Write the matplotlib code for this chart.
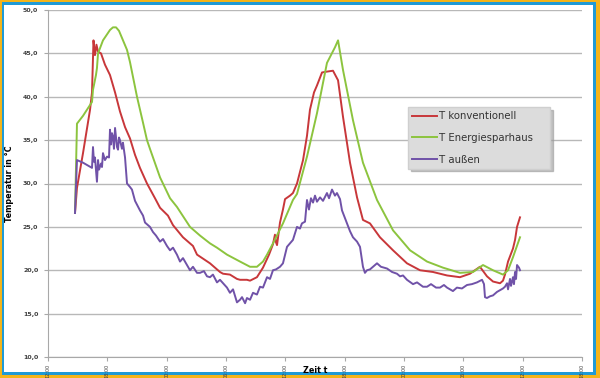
#!/usr/bin/env python3
"""Temperaturverlauf konventionell / Energiesparhaus / aussen."""

import matplotlib
matplotlib.use('Agg')
import matplotlib.pyplot as plt
from matplotlib.patches import Rectangle

# Zeit in Stunden ab 12:00 des ersten Tages
TICK_HOURS = [0, 6, 12, 18, 24, 30, 36, 42, 48, 54]
TICK_LABELS = ['12:00', '18:00', '00:00', '06:00', '12:00',
               '18:00', '00:00', '06:00', '12:00', '18:00']
Y_TICKS = [10, 15, 20, 25, 30, 35, 40, 45, 50]
SERIES_NAMES = ['T konventionell', 'T Energiesparhaus', 'T außen']

KONV_H = [2.73, 2.93, 3.54, 4.25, 4.45, 4.60, 4.75, 4.90, 5.06, 5.36,
          5.76, 6.27, 6.78, 7.28, 7.79, 8.29, 8.80, 9.30, 10.01, 10.82,
          11.33, 12.13, 12.64, 13.65, 14.66, 15.07, 16.38, 17.39, 17.70,
          18.40, 19.11, 19.42, 20.12, 20.43, 21.13, 21.74, 22.35, 22.75,
          22.95, 23.06, 23.16, 23.46, 23.76, 23.97, 24.47, 24.77, 25.18,
          25.79, 26.19, 26.49, 26.90, 27.20, 27.71, 28.21, 28.82, 29.33,
          29.83, 30.54, 31.25, 31.85, 32.56, 33.57, 34.89, 36.30, 37.62,
          38.93, 40.35, 41.66, 42.67, 43.68, 44.39, 45.00, 45.71, 46.01,
          46.21, 46.52, 47.02, 47.23, 47.43, 47.73]
KONV_T = [26.6, 29.5, 33.5, 38.5, 40.5, 46.5, 44.8, 46.0, 45.2, 45.0,
          43.7, 42.5, 40.5, 38.3, 36.5, 35.2, 33.3, 31.8, 30.0, 28.3,
          27.2, 26.3, 25.2, 23.8, 22.8, 21.8, 20.8, 19.8, 19.6,
          19.5, 19.0, 18.9, 18.9, 18.8, 19.2, 20.3, 21.8, 23.0,
          24.1, 23.2, 22.9, 25.5, 27.0, 28.2, 28.6, 28.9, 30.0,
          32.7, 35.5, 38.5, 40.5, 41.3, 42.8, 42.9, 43.0, 41.9,
          37.7, 32.4, 28.4, 25.8, 25.4, 23.8, 22.3, 20.8, 20.0,
          19.8, 19.4, 19.2, 19.6, 20.4, 19.3, 18.7, 18.5, 18.8,
          19.5, 21.0, 22.5, 23.5, 25.0, 26.1]

SPAR_H = [2.73, 2.93, 3.54, 4.45, 4.55, 4.85, 4.95, 5.06, 5.56, 6.27,
          6.57, 6.88, 7.18, 7.99, 8.29, 9.00, 9.61, 10.01, 10.31, 11.33,
          12.34, 13.04, 14.36, 15.37, 16.38, 17.09, 18.10, 19.42, 20.43,
          21.13, 21.74, 22.15, 22.75, 23.76, 24.77, 25.18, 26.19, 27.20,
          28.21, 29.02, 29.33, 29.83, 30.84, 31.85, 33.27, 34.89, 36.61,
          38.33, 39.94, 41.66, 42.98, 43.99, 45.00, 46.01, 46.52, 47.02,
          47.73]
SPAR_T = [26.6, 36.9, 37.8, 39.4, 40.8, 42.5, 43.3, 45.0, 46.5, 47.7,
          48.0, 48.0, 47.6, 45.4, 44.0, 40.0, 37.0, 35.0, 34.0, 30.7,
          28.3, 27.3, 25.0, 24.0, 23.1, 22.6, 21.8, 21.0, 20.4,
          20.4, 21.0, 21.8, 23.1, 25.4, 28.1, 28.8, 33.1, 38.1,
          43.9, 45.7, 46.5, 43.1, 37.3, 32.4, 28.1, 24.6, 22.3,
          21.0, 20.3, 19.7, 19.8, 20.6, 20.0, 19.5, 20.0, 21.5,
          23.8]

AUSSEN_H = [2.73, 2.93, 3.54, 4.15, 4.45, 4.55, 4.65, 4.75, 4.95, 5.06,
            5.16, 5.36, 5.46, 5.56, 5.76, 5.97, 6.17, 6.27, 6.37, 6.47,
            6.57, 6.67, 6.78, 6.98, 7.08, 7.18, 7.28, 7.48, 7.58, 7.79,
            7.99, 8.29, 8.49, 8.80, 9.30, 9.61, 9.81, 10.31, 10.62, 10.92,
            11.33, 11.63, 12.03, 12.34, 12.64, 13.04, 13.35, 13.65, 14.05,
            14.36, 14.66, 15.07, 15.37, 15.77, 16.08, 16.38, 16.68, 17.09,
            17.39, 17.70, 18.10, 18.40, 18.71, 19.11, 19.42, 19.62, 19.93,
            20.12, 20.43, 20.73, 21.13, 21.44, 21.74, 22.15, 22.45, 22.75,
            23.06, 23.46, 23.76, 24.17, 24.47, 24.77, 25.18, 25.48, 25.68,
            25.99, 26.19, 26.39, 26.59, 26.80, 27.00, 27.20, 27.51, 27.81,
            28.21, 28.42, 28.72, 29.02, 29.22, 29.53, 29.73, 30.03, 30.24,
            30.54, 30.84, 31.25, 31.55, 31.85, 32.05, 32.26, 32.56, 32.96,
            33.27, 33.67, 34.28, 34.79, 35.29, 35.60, 35.90, 36.30, 36.91,
            37.32, 37.92, 38.33, 38.73, 39.24, 39.64, 40.04, 40.35, 40.95,
            41.35, 41.86, 42.37, 42.87, 43.38, 43.89, 44.09, 44.19, 44.39,
            44.70, 45.00, 45.40, 45.71, 46.01, 46.21, 46.42, 46.52, 46.72,
            46.82, 47.02, 47.12, 47.23, 47.33, 47.43, 47.63, 47.73]
AUSSEN_T = [26.6, 32.7, 32.4, 32.0, 31.8, 34.2, 32.5, 33.0, 30.2, 32.7,
            31.6, 32.3, 31.9, 33.5, 32.7, 33.1, 33.0, 36.2, 34.5, 35.8,
            35.4, 34.0, 36.4, 34.2, 33.9, 35.3, 35.0, 34.0, 34.7, 33.0,
            30.0, 29.6, 29.3, 28.0, 26.9, 26.3, 25.5, 25.0, 24.4, 24.0,
            23.3, 23.6, 22.8, 22.3, 22.6, 21.8, 21.0, 21.4, 20.6,
            20.0, 20.4, 19.7, 19.7, 19.9, 19.3, 19.2, 19.5, 18.6,
            18.9, 18.5, 18.0, 17.4, 17.8, 16.3, 16.6, 16.9, 16.2,
            16.8, 16.6, 17.4, 17.2, 18.1, 18.0, 19.2, 19.0, 20.0,
            20.1, 20.4, 20.8, 22.7, 23.1, 23.5, 25.0, 24.8, 25.4,
            25.6, 28.1, 27.0, 28.3, 27.8, 28.6, 27.9, 28.4, 28.0,
            28.9, 28.3, 29.3, 28.6, 28.9, 28.2, 26.9, 26.0, 25.4,
            24.5, 23.8, 23.3, 22.7, 20.4, 19.7, 20.0, 20.1, 20.5,
            20.8, 20.4, 20.2, 19.8, 19.6, 19.3, 19.4, 18.9, 18.4,
            18.6, 18.1, 18.1, 18.4, 18.0, 18.0, 18.3, 18.0, 17.6,
            18.0, 17.9, 18.3, 18.4, 18.6, 18.9, 18.4, 16.9, 16.8,
            17.0, 17.1, 17.5, 17.7, 17.9, 18.1, 18.5, 17.8, 19.0,
            18.2, 19.2, 18.4, 19.8, 19.0, 20.6, 20.3, 20.0]

W, H = 600, 378
fig = plt.figure(figsize=(W / 100, H / 100), dpi=100)
fig.patch.set_facecolor('#f4b41a')
fig.patches.append(Rectangle((2 / W, 3 / H), 594 / W, 373 / H,
                             transform=fig.transFigure, facecolor='#1f9ad6',
                             edgecolor='none', zorder=-2))
fig.patches.append(Rectangle((4 / W, 6 / H), 589 / W, 367 / H,
                             transform=fig.transFigure, facecolor='white',
                             edgecolor='none', zorder=-1))

ax = fig.add_axes([48 / W, 1 - 357 / H, 534 / W, 347 / H])
ax.set_facecolor('none')

ax.plot(KONV_H, KONV_T, color='#c8373a', lw=1.4)
ax.plot(SPAR_H, SPAR_T, color='#8cc43e', lw=1.4)
ax.plot(AUSSEN_H, AUSSEN_T, color='#7052a8', lw=1.4)

ax.set_xlim(0, 54)
ax.set_ylim(10, 50)
ax.set_yticks(Y_TICKS)
ax.set_yticklabels([f'{v:.1f}'.replace('.', ',') for v in Y_TICKS])
ax.set_xticks(TICK_HOURS)
ax.set_xticklabels(TICK_LABELS, rotation=90)
ax.grid(axis='y', color='#b8b8b8', lw=1.0)
ax.set_axisbelow(True)
for side in ('top', 'right'):
    ax.spines[side].set_visible(False)
for side in ('left', 'bottom'):
    ax.spines[side].set_color('#a8a8a8')
ax.tick_params(axis='y', length=3, width=0.8, color='#a8a8a8',
               labelsize=4.5, labelcolor='#404040', pad=4)
ax.tick_params(axis='x', length=3, width=0.8, color='#a8a8a8',
               labelsize=3.5, labelcolor='#404040', pad=2)
for lab in ax.get_yticklabels():
    lab.set_fontweight('bold')

ax.set_ylabel('Temperatur in °C', fontsize=5.8, fontweight='bold')
ax.yaxis.set_label_coords(-0.063, 0.5)
ax.set_xlabel('Zeit t', fontsize=5.8, fontweight='bold')
ax.xaxis.set_label_coords(0.5, -0.026)

# trailing blanks widen the box on the right like in the original
labels = [SERIES_NAMES[0], SERIES_NAMES[1] + '    ', SERIES_NAMES[2]]
leg = ax.legend(ax.get_lines(), labels, loc='upper left',
                bbox_to_anchor=(0.674, 0.72),
                fontsize=7.3, handlelength=2.5, handletextpad=0.15,
                labelspacing=1.15, borderpad=0.4, borderaxespad=0,
                fancybox=False, shadow={'color': '#9a9a9a', 'alpha': 0.6},
                framealpha=1, labelcolor='#333333')
leg.get_frame().set_facecolor('#dcdcdc')
leg.get_frame().set_edgecolor('#cfcfcf')

fig.savefig('out.png', dpi=100)
